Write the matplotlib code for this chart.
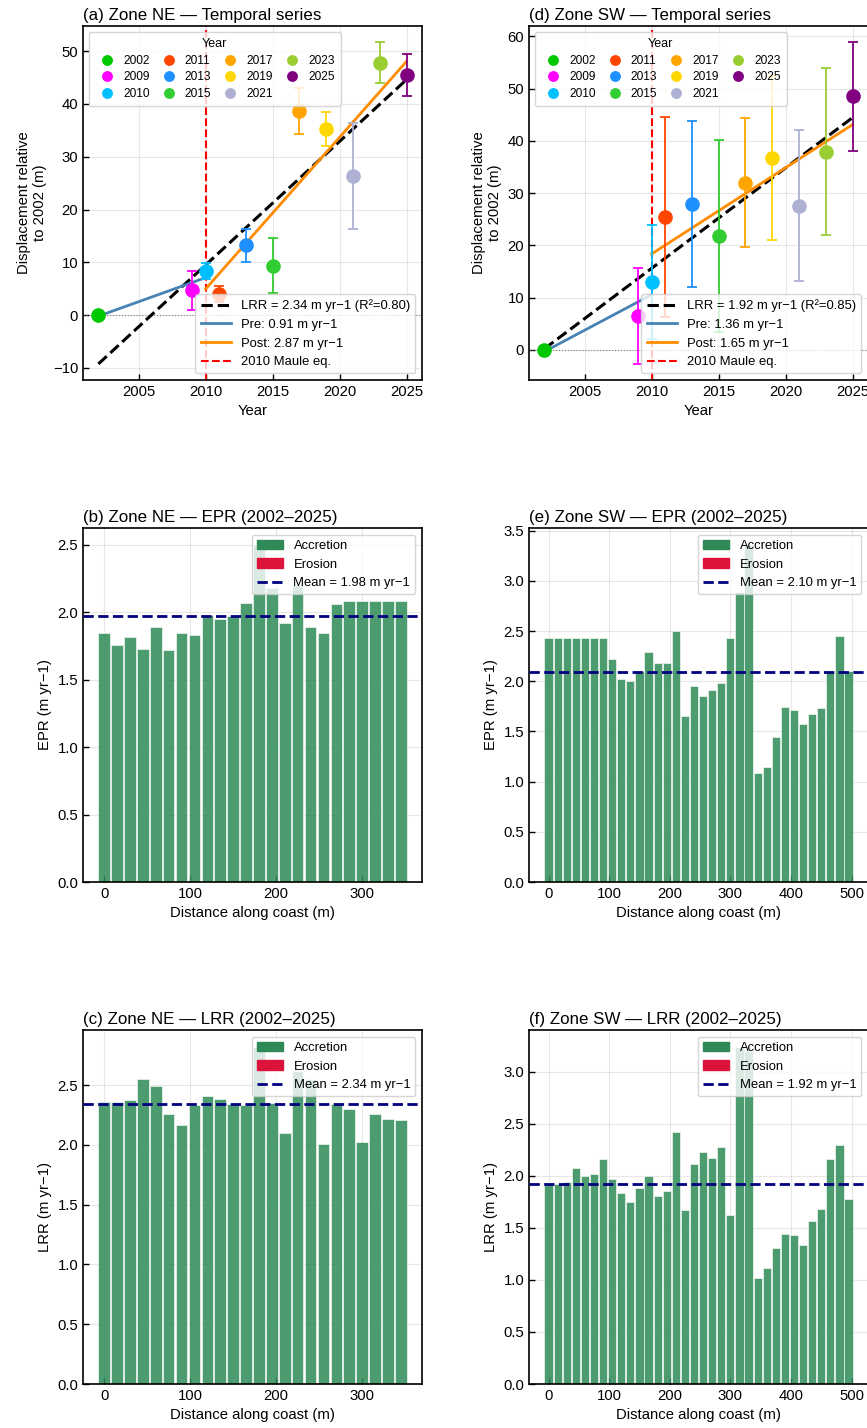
import numpy as np
import matplotlib
matplotlib.use("Agg")
import matplotlib.pyplot as plt
from matplotlib.lines import Line2D
from matplotlib.patches import Patch

plt.rcParams['font.family'] = ['Liberation Sans', 'DejaVu Sans']

# survey years and the colour used for each one
years = [2002, 2009, 2010, 2011, 2013, 2015, 2017, 2019, 2021, 2023, 2025]
year_colors = ['#00c800', '#ff00ff', '#00bfff', '#ff4500', '#1e90ff', '#32cd32',
               '#ffa500', '#ffd700', '#aeb0d4', '#9acd32', '#800080']

# mean shoreline displacement relative to 2002 (m) and spread between transects
ne_disp = [0.0, 4.7, 8.4, 4.0, 13.2, 9.4, 38.7, 35.3, 26.3, 47.8, 45.4]
ne_err = [0.0, 3.65, 1.5, 1.6, 3.2, 5.2, 4.4, 3.2, 10.0, 3.9, 4.0]
sw_disp = [0.0, 6.5, 12.9, 25.4, 27.9, 21.8, 32.0, 36.8, 27.6, 37.9, 48.5]
sw_err = [0.0, 9.2, 10.9, 19.2, 15.9, 18.4, 12.35, 15.7, 14.4, 16.0, 10.4]

quake_year = 2010

# transects every 15 m along the coast
transect_step = 15
ne_epr = [1.85, 1.76, 1.82, 1.73, 1.89, 1.72, 1.85, 1.83, 1.98, 1.95, 1.97, 2.07,
          2.50, 2.18, 1.92, 2.20, 1.89, 1.85, 2.06, 2.08, 2.08, 2.08, 2.08, 2.08]
ne_lrr = [2.36, 2.36, 2.375, 2.55, 2.49, 2.26, 2.17, 2.33, 2.41, 2.38, 2.34, 2.33,
          2.82, 2.35, 2.10, 2.62, 2.55, 2.01, 2.34, 2.30, 2.025, 2.26, 2.22, 2.21]
sw_epr = [2.43, 2.43, 2.43, 2.43, 2.43, 2.43, 2.43, 2.22, 2.02, 2.00, 2.10, 2.29,
          2.18, 2.18, 2.50, 1.65, 1.95, 1.85, 1.91, 1.98, 2.43, 2.89, 3.36, 1.09,
          1.15, 1.45, 1.74, 1.71, 1.57, 1.67, 1.73, 2.10, 2.45, 2.10]
sw_lrr = [1.93, 1.92, 1.94, 2.08, 2.00, 2.02, 2.16, 1.97, 1.84, 1.75, 1.88, 2.00,
          1.81, 1.85, 2.42, 1.67, 2.11, 2.23, 2.17, 2.28, 1.62, 3.24, 3.20, 1.02,
          1.11, 1.31, 1.44, 1.43, 1.34, 1.57, 1.68, 2.16, 2.30, 1.78]

ACC = '#2e8b57'
ERO = '#dc143c'


def style_axes(ax):
    ax.tick_params(direction='in', length=4, width=1, labelsize=10.7)
    for s in ax.spines.values():
        s.set_linewidth(1.2)
    ax.grid(True, alpha=0.3)
    ax.set_axisbelow(True)


def fit(x, y):
    slope, icpt = np.polyfit(x, y, 1)
    return slope, icpt


def temporal_panel(ax, title, disp, err):
    x = np.array(years, dtype=float)
    y = np.array(disp, dtype=float)
    style_axes(ax)
    ax.axhline(0, color='gray', lw=0.8, ls=':', zorder=1)

    for yr, v, e, c in zip(years, disp, err, year_colors):
        ax.errorbar(yr, v, yerr=e, fmt='o', color=c, ms=9.5, capsize=3.6,
                    elinewidth=1.3, capthick=1.3, zorder=4)

    # regression over the whole record
    slope, icpt = fit(x, y)
    r2 = np.corrcoef(x, y)[0, 1] ** 2
    xx = np.array([x[0], x[-1]])
    ax.plot(xx, slope * xx + icpt, 'k--', lw=2.2, zorder=3,
            label=f'LRR = {slope:.2f} m yr\u22121 (R\u00b2={r2:.2f})')

    # before / after the earthquake
    pre = x <= quake_year
    s1, i1 = fit(x[pre], y[pre])
    xp = np.array([x[pre][0], x[pre][-1]])
    ax.plot(xp, s1 * xp + i1, color='steelblue', lw=2, zorder=3,
            label=f'Pre: {s1:.2f} m yr\u22121')
    post = x >= quake_year
    s2, i2 = fit(x[post], y[post])
    xq = np.array([x[post][0], x[post][-1]])
    ax.plot(xq, s2 * xq + i2, color='darkorange', lw=2, zorder=3,
            label=f'Post: {s2:.2f} m yr\u22121')
    ax.axvline(quake_year, color='red', ls='--', lw=1.5, zorder=2,
               label='2010 Maule eq.')

    year_handles = [Line2D([], [], marker='o', ls='none', color=c, ms=6.8)
                    for c in year_colors]
    leg = ax.legend(year_handles, [str(yr) for yr in years], ncol=4, loc='upper left',
                    title='Year', fontsize=8.6, title_fontsize=9.0,
                    handlelength=2.0, handletextpad=0.35, columnspacing=0.6,
                    labelspacing=0.4, borderpad=0.5, borderaxespad=0.5)
    ax.add_artist(leg)
    ax.legend(loc='lower right', fontsize=9.4, handlelength=2.3)

    ax.set_title(title, loc='left', fontsize=12.2, pad=4)
    ax.set_xlabel('Year', fontsize=10.7)
    ax.set_ylabel('Displacement relative\nto 2002 (m)', fontsize=10.7)


def rate_panel(ax, title, rates, ylabel):
    rates = np.array(rates)
    dist = np.arange(len(rates)) * transect_step
    style_axes(ax)
    colors = [ACC if r >= 0 else ERO for r in rates]
    ax.bar(dist, rates, width=0.9 * transect_step, color=colors, alpha=0.85,
           edgecolor='white', linewidth=0.5, zorder=2)
    mean = rates.mean()
    ax.axhline(mean, color='navy', ls='--', lw=2, zorder=3)

    handles = [Patch(color=ACC), Patch(color=ERO),
               Line2D([], [], color='navy', ls='--', lw=2)]
    labels = ['Accretion', 'Erosion', f'Mean = {mean:.2f} m yr\u22121']
    ax.legend(handles, labels, loc='upper right', fontsize=9.4)

    ax.set_title(title, loc='left', fontsize=12.2, pad=4)
    ax.set_xlabel('Distance along coast (m)', fontsize=10.7)
    ax.set_ylabel(ylabel, fontsize=10.7)


fig, axes = plt.subplots(3, 2, figsize=(8.67, 14.28))
fig.subplots_adjust(left=83 / 867, right=868 / 867, top=1 - 26 / 1428,
                    bottom=1 - 1384 / 1428, wspace=107 / 339, hspace=148 / 354)

temporal_panel(axes[0, 0], '(a) Zone NE \u2014 Temporal series', ne_disp, ne_err)
rate_panel(axes[1, 0], '(b) Zone NE \u2014 EPR (2002\u20132025)', ne_epr, 'EPR (m yr\u22121)')
rate_panel(axes[2, 0], '(c) Zone NE \u2014 LRR (2002\u20132025)', ne_lrr, 'LRR (m yr\u22121)')
temporal_panel(axes[0, 1], '(d) Zone SW \u2014 Temporal series', sw_disp, sw_err)
rate_panel(axes[1, 1], '(e) Zone SW \u2014 EPR (2002\u20132025)', sw_epr, 'EPR (m yr\u22121)')
rate_panel(axes[2, 1], '(f) Zone SW \u2014 LRR (2002\u20132025)', sw_lrr, 'LRR (m yr\u22121)')

fig.savefig('out.png', dpi=100)
